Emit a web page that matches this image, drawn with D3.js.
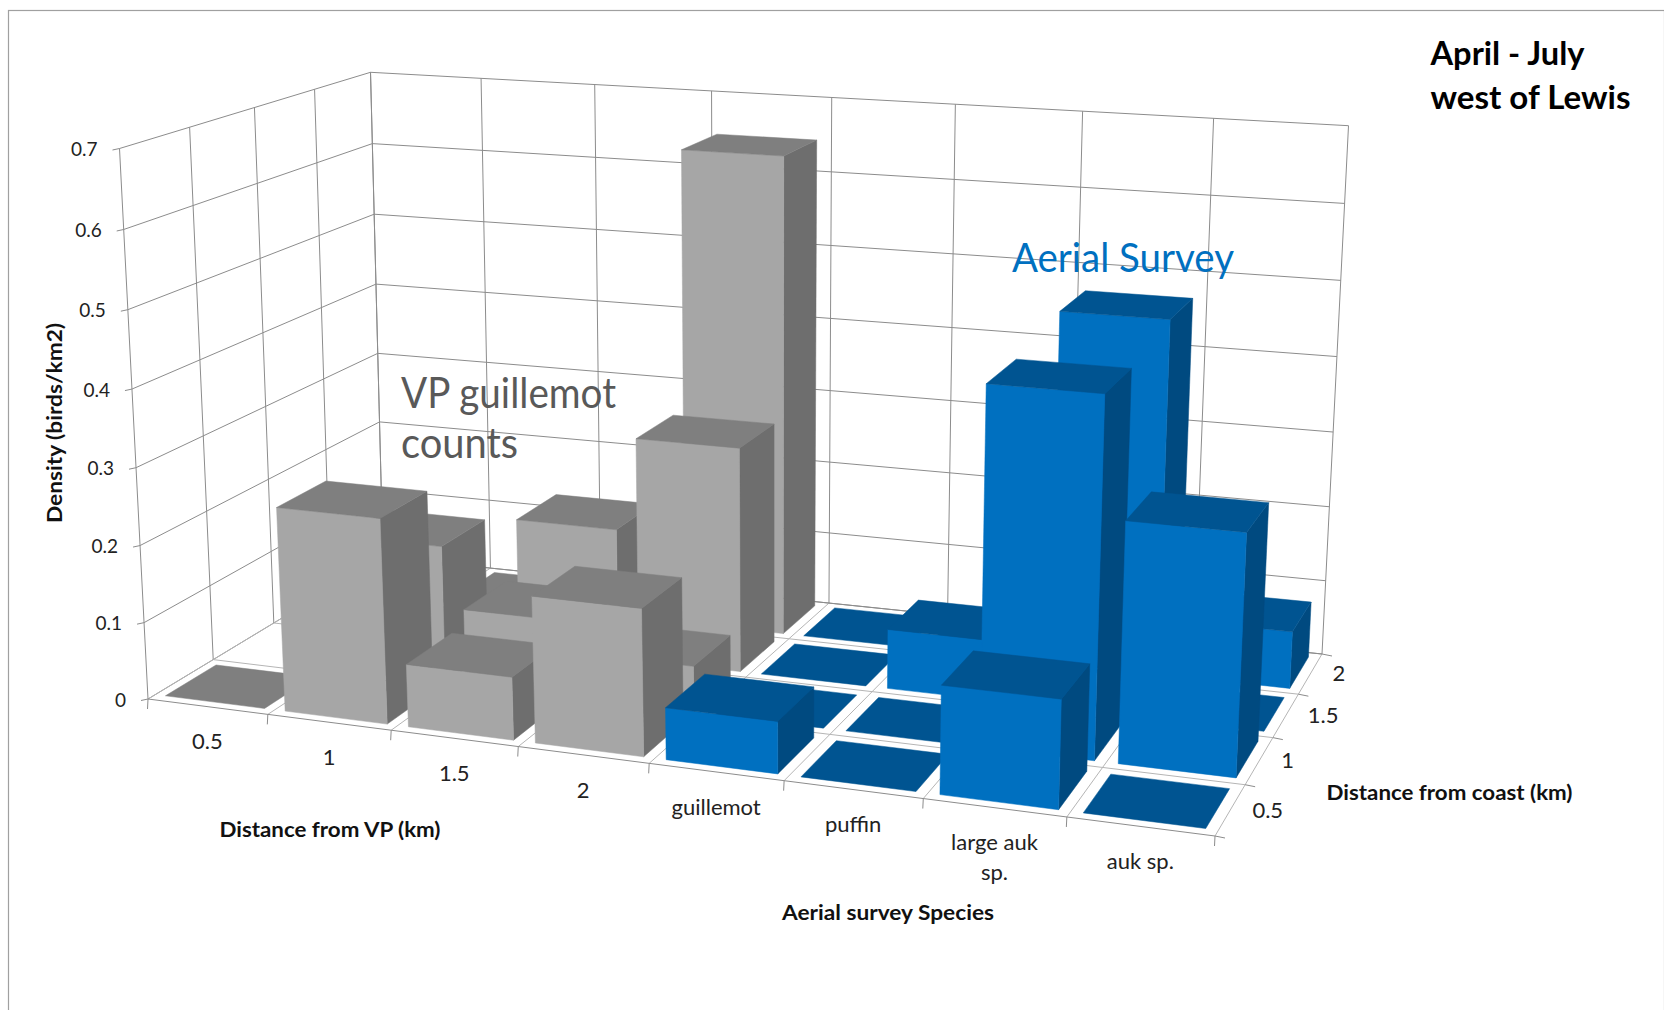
<!DOCTYPE html>
<html><head><meta charset="utf-8">
<script src="https://cdnjs.cloudflare.com/ajax/libs/d3/7.8.5/d3.min.js"></script>
<style>html,body{margin:0;padding:0;background:#fff}svg{display:block}text{font-family:Lato,"Open Sans",sans-serif}</style>
</head><body><div id="c"></div>
<script>
// ---------- data ----------
const categories = ["0.5","1","1.5","2","guillemot","puffin","large auk sp.","auk sp."];
const depthLabels = ["0.5","1","1.5","2"];
const valueTicks = [0,0.1,0.2,0.3,0.4,0.5,0.6,0.7];
const series05 = [0, 0.262, 0.08, 0.185, 0.065, 0, 0.133, 0];
const series10 = [null, 0.18, 0.1, 0.06, 0, 0, 0.451, 0.3];
const series15 = [null, 0, 0.173, 0.297, 0, 0.078, null, 0];
const series20 = [null, 0, 0, 0.645, 0, 0, 0.467, 0.075];
const allSeries = [series05, series10, series15, series20];
const grey = {front:"#a6a6a6", top:"#7f7f7f", side:"#6e6e6e"};
const blue = {front:"#0070c0", top:"#005491", side:"#004a80"};

const W=1664,H=1010;
const svg=d3.select("#c").append("svg").attr("width",W).attr("height",H);

// ---------- projection calibration (box corners on the page) ----------
function squareToQuad(p0,p1,p2,p3){ // (0,0),(1,0),(1,1),(0,1)
  const dx1=p1[0]-p2[0],dx2=p3[0]-p2[0],sx=p0[0]-p1[0]+p2[0]-p3[0];
  const dy1=p1[1]-p2[1],dy2=p3[1]-p2[1],sy=p0[1]-p1[1]+p2[1]-p3[1];
  const den=dx1*dy2-dx2*dy1;
  const g=(sx*dy2-dx2*sy)/den,h=(dx1*sy-sx*dy1)/den;
  const a=p1[0]-p0[0]+g*p1[0],b=p3[0]-p0[0]+h*p3[0],c=p0[0];
  const d=p1[1]-p0[1]+g*p1[1],e=p3[1]-p0[1]+h*p3[1],f=p0[1];
  return (u,v)=>{const w=g*u+h*v+1;return [(a*u+b*v+c)/w,(d*u+e*v+f)/w];};
}
const floorH=squareToQuad([148,699],[1215,836],[1322,654],[383,557]);
const topH=squareToQuad([119.5,148.5],[1240,226],[1348.5,125.7],[370.5,72.3]);
const warpU=u=>u+0.028*u*(1-u);
const zPersp=z=>z/(1.035-0.035*z);
const P=(u,v,z)=>{
  const a=floorH(warpU(u),v),b=topH(warpU(u),v),t=zPersp(z);
  return [a[0]+(b[0]-a[0])*t,a[1]+(b[1]-a[1])*t];
};

// ---------- scales ----------
const uScale=d3.scaleBand().domain(categories).range([0,1]).paddingInner(0.17).paddingOuter(0.085);
const vScale=d3.scaleBand().domain(depthLabels).range([0,1]).paddingInner(0.22).paddingOuter(0.11);
const uEdge=d3.scaleLinear().domain([0,categories.length]).range([0,1]);
const vEdge=d3.scaleLinear().domain([0,depthLabels.length]).range([0,1]);
const zScale=d3.scaleLinear().domain([0,0.7]).range([0,1]);
const line=d3.line();

// ---------- frame ----------
svg.append("rect").attr("x",8.5).attr("y",10.5).attr("width",W-8).attr("height",H+20).attr("fill","none").attr("stroke","#a0a0a0").attr("stroke-width",1.2);

// ---------- walls / floor grid ----------
const gridG=svg.append("g").attr("fill","none").attr("stroke","#8c8c8c").attr("stroke-width",1);
valueTicks.forEach(t=>{
  const z=zScale(t);
  gridG.append("path").attr("d",line([P(0,0,z),P(0,1,z),P(1,1,z)]));
  const p=P(0,0,z);
  gridG.append("path").attr("d",line([[p[0]-7,p[1]+1.5],p]));
});
d3.range(categories.length+1).forEach(i=>{
  const u=uEdge(i);
  gridG.append("path").attr("d",line([P(u,1,0),P(u,1,1)]));
  const p=P(u,0,0);
  gridG.append("path").attr("d",line([P(u,1,0),p])).attr("stroke","#b5b5b5");
  gridG.append("path").attr("d",line([p,[p[0]-0.5,p[1]+10]]));
});
d3.range(depthLabels.length+1).forEach(i=>{
  const v=vEdge(i);
  gridG.append("path").attr("d",line([P(0,v,0),P(0,v,1)]));
  const p=P(1,v,0);
  gridG.append("path").attr("d",line([P(0,v,0),p])).attr("stroke",i===0||i===4?"#8c8c8c":"#b5b5b5");
  gridG.append("path").attr("d",line([p,[p[0]+10,p[1]+2]]));
});

// ---------- in-chart notes that sit behind the bars ----------
svg.append("text").attr("x",401).attr("y",408).attr("font-size",42).attr("fill","#595959").attr("textLength",215).attr("lengthAdjust","spacingAndGlyphs").text("VP guillemot");
svg.append("text").attr("x",401).attr("y",458).attr("font-size",42).attr("fill","#595959").attr("textLength",117).attr("lengthAdjust","spacingAndGlyphs").text("counts");

// ---------- bars, back row first, left to right ----------
const barG=svg.append("g");
d3.range(depthLabels.length-1,-1,-1).forEach(r=>{
  categories.forEach((cat,i)=>{
    const val=allSeries[r][i];
    if(val===null)return;
    const col=i<4?grey:blue;
    const u0=uScale(cat),u1=u0+uScale.bandwidth();
    const v0=vScale(depthLabels[r]),v1=v0+vScale.bandwidth();
    const z=zScale(val);
    const poly=(pts,fill)=>barG.append("path").attr("d",line(pts)+"Z").attr("fill",fill).attr("stroke",fill).attr("stroke-width",0.5);
    if(val>0){
      poly([P(u1,v0,0),P(u1,v1,0),P(u1,v1,z),P(u1,v0,z)],col.side);
      poly([P(u0,v0,0),P(u1,v0,0),P(u1,v0,z),P(u0,v0,z)],col.front);
    }
    poly([P(u0,v0,z),P(u1,v0,z),P(u1,v1,z),P(u0,v1,z)],col.top);
  });
});

// ---------- labels ----------
valueTicks.forEach(t=>{
  const p=P(0,0,zScale(t));
  svg.append("text").attr("x",p[0]-22).attr("y",p[1]+1).attr("dy","0.35em").attr("text-anchor","end").attr("font-size",19).attr("fill","#222").text(t);
});
categories.forEach((cat,i)=>{
  const p=P(uEdge(i+0.5),0,0);
  const lines=cat==="large auk sp."?["large auk","sp."]:[cat];
  lines.forEach((s,k)=>svg.append("text").attr("x",p[0]).attr("y",p[1]+35+k*30).attr("dy","0.35em").attr("text-anchor","middle").attr("font-size",22).attr("fill","#222").text(s));
});
depthLabels.forEach((s,i)=>{
  const p=P(1,vEdge(i+0.5),0);
  svg.append("text").attr("x",p[0]+22).attr("y",p[1]).attr("dy","0.35em").attr("font-size",22).attr("fill","#222").text(s);
});
const bold=(x,y,s,len,size,anchor)=>svg.append("text").attr("x",x).attr("y",y).attr("dy","0.35em").attr("font-size",size).attr("font-weight",700).attr("fill","#111").attr("text-anchor",anchor||"middle").attr("textLength",len).attr("lengthAdjust","spacingAndGlyphs").text(s);
bold(330,830,"Distance from VP (km)",221,21);
bold(888,913,"Aerial survey Species",212,21);
bold(1326.5,793,"Distance from coast (km)",246,21,"start");
svg.append("text").attr("transform","translate(55,423) rotate(-90)").attr("dy","0.35em").attr("text-anchor","middle").attr("font-size",21).attr("font-weight",700).attr("fill","#111").attr("textLength",200).attr("lengthAdjust","spacingAndGlyphs").text("Density (birds/km2)");
svg.append("text").attr("x",1430.5).attr("y",65).attr("font-size",33).attr("font-weight",700).attr("fill","#000").attr("textLength",154).attr("lengthAdjust","spacingAndGlyphs").text("April - July");
svg.append("text").attr("x",1430.5).attr("y",108.5).attr("font-size",33).attr("font-weight",700).attr("fill","#000").attr("textLength",200).attr("lengthAdjust","spacingAndGlyphs").text("west of Lewis");
svg.append("text").attr("x",1012).attr("y",272).attr("font-size",40).attr("fill","#0070c0").attr("textLength",222).attr("lengthAdjust","spacingAndGlyphs").text("Aerial Survey");
</script></body></html>
